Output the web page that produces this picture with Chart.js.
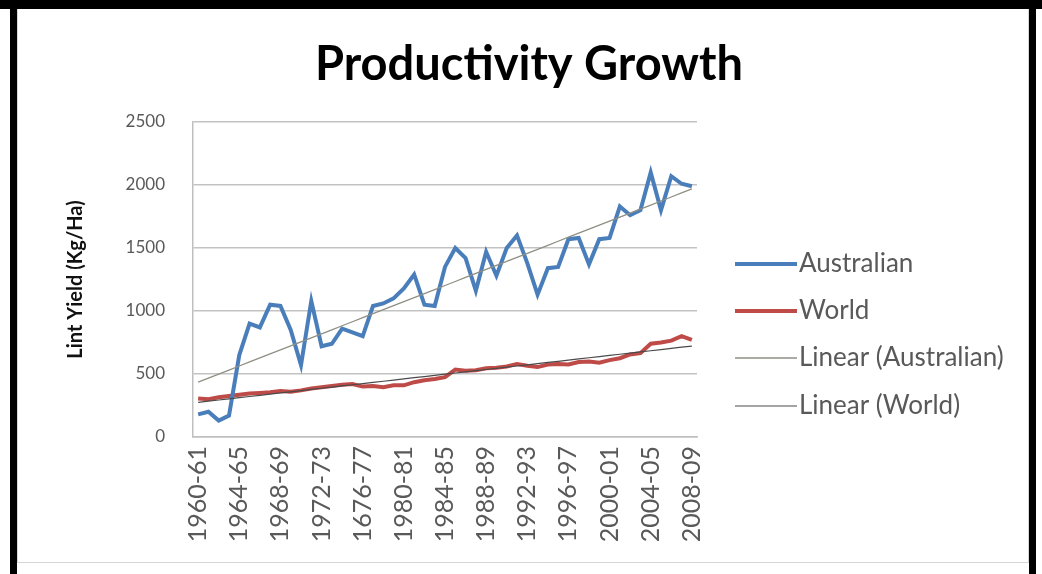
<!DOCTYPE html>
<html>
<head>
<meta charset="utf-8">
<title>Productivity Growth</title>
<script src="https://cdn.jsdelivr.net/npm/chart.js@4.4.1/dist/chart.umd.min.js"></script>
<style>
  html, body { margin: 0; padding: 0; background: #fff; }
  #wrap { position: relative; width: 1042px; height: 574px; overflow: hidden; background: #fff; }
  #chart { position: absolute; left: 0; top: 0; }
  #inner { position: absolute; left: 17px; top: 9px; width: 1010px; height: 553px; border: 1px solid #d6d6d6; border-top: none; pointer-events: none; }
  .frame { position: absolute; background: #000; }
</style>
</head>
<body>
<div id="wrap">
  <canvas id="chart" width="1042" height="574"></canvas>
  <div id="inner"></div>
  <div class="frame" style="left:0;top:0;width:1042px;height:9px"></div>
  <div class="frame" style="left:10px;top:0;width:7px;height:574px"></div>
  <div class="frame" style="left:1029px;top:0;width:7px;height:574px"></div>
</div>

<script>
// ---------- Dades (llegides del gràfic) ----------
const seasons = [
  "1960-61", "1961-62", "1962-63", "1963-64", "1964-65", "1965-66", "1966-67",
  "1967-68", "1968-69", "1969-70", "1970-71", "1971-72", "1972-73", "1973-74",
  "1974-75", "1975-76", "1676-77", "1977-78", "1978-79", "1979-80", "1980-81",
  "1981-82", "1982-83", "1983-84", "1984-85", "1985-86", "1986-87", "1987-88",
  "1988-89", "1989-90", "1990-91", "1991-92", "1992-93", "1993-94", "1994-95",
  "1995-96", "1996-97", "1997-98", "1998-99", "1999-00", "2000-01", "2001-02",
  "2002-03", "2003-04", "2004-05", "2005-06", "2006-07", "2007-08", "2008-09"
];

const tickLabels = [
  "1960-61", "1964-65", "1968-69", "1972-73", "1676-77", "1980-81", "1984-85",
  "1988-89", "1992-93", "1996-97", "2000-01", "2004-05", "2008-09"
];

const australian = [
  180, 200, 130, 170, 650, 900, 870, 1050, 1040, 850,
  570, 1080, 720, 740, 860, 830, 800, 1040, 1060, 1100,
  1180, 1290, 1050, 1040, 1350, 1500, 1420, 1160, 1470, 1280,
  1500, 1600, 1380, 1130, 1340, 1350, 1570, 1580, 1370, 1570,
  1580, 1830, 1760, 1800, 2100, 1800, 2070, 2010, 1990
];

const world = [
  305, 300, 315, 325, 335, 345, 350, 355, 365, 360,
  370, 385, 395, 405, 415, 420, 400, 405, 395, 410,
  410, 435, 450, 460, 475, 535, 525, 530, 545, 550,
  560, 580, 565, 555, 575, 580, 575, 595, 600, 590,
  610, 625, 655, 665, 740, 750, 765, 800, 770
];

const yTicks = [0, 500, 1000, 1500, 2000, 2500];

// ---------- Línia de tendència (com Excel) ----------
function linearFit(values) {
  const n = values.length;
  let sx = 0, sy = 0, sxy = 0, sxx = 0;
  values.forEach((y, i) => { sx += i; sy += y; sxy += i * y; sxx += i * i; });
  const b = (n * sxy - sx * sy) / (n * sxx - sx * sx);
  const a = (sy - b * sx) / n;
  return values.map((_, i) => a + b * i);
}

const txtGrey = '#595959';

// ---------- Títol i llegenda dibuixats a mà ----------
const titleAndLegend = {
  id: 'titleAndLegend',
  afterDraw(chart) {
    const ctx = chart.ctx;
    ctx.save();

    ctx.font = 'bold 47px Lato';
    ctx.fillStyle = '#000';
    ctx.textAlign = 'center';
    ctx.textBaseline = 'alphabetic';
    ctx.fillText('Productivity Growth', 529, 80);

    const x0 = 735, x1 = 797;
    const rows = [264, 311, 358, 406];
    ctx.font = '26px Lato';
    ctx.textAlign = 'left';
    ctx.textBaseline = 'middle';
    ctx.fillStyle = txtGrey;
    chart.data.datasets.forEach((ds, i) => {
      const y = rows[i];
      ctx.strokeStyle = ds.borderColor;
      ctx.lineWidth = ds.borderWidth;
      ctx.beginPath();
      ctx.moveTo(x0, y);
      ctx.lineTo(x1, y);
      ctx.stroke();
      ctx.fillText(ds.label, x1 + 2, y);
    });
    ctx.restore();
  }
};

const ctx = document.getElementById('chart').getContext('2d');

new Chart(ctx, {
  type: 'line',
  data: {
    labels: seasons,
    datasets: [
      { label: 'Australian', data: australian, borderColor: '#4a7ebb', borderWidth: 4, order: 2 },
      { label: 'World', data: world, borderColor: '#be4b48', borderWidth: 4, order: 3 },
      { label: 'Linear (Australian)', data: linearFit(australian), borderColor: '#8f8f84', borderWidth: 1.3, order: 0 },
      { label: 'Linear (World)', data: linearFit(world), borderColor: '#4a4a4a', borderWidth: 1.2, order: 1 }
    ]
  },
  options: {
    responsive: false,
    animation: false,
    elements: { point: { radius: 0 }, line: { tension: 0 } },
    layout: { padding: { left: 64, right: 345, top: 122, bottom: 17 } },
    plugins: {
      legend: { display: false },
      tooltip: { enabled: false },
      title: { display: false }
    },
    scales: {
      x: {
        offset: true,
        grid: { display: false, drawTicks: false },
        border: { color: '#bfbfbf', width: 1.5 },
        ticks: {
          autoSkip: false,
          minRotation: 90,
          maxRotation: 90,
          padding: 9,
          color: txtGrey,
          font: { family: 'Lato', size: 25 },
          callback: function (v, i) {
            return tickLabels.includes(seasons[i]) ? seasons[i] : '';
          }
        },
        afterFit: s => { s.height = 120; }
      },
      y: {
        min: 0,
        max: 2500,
        afterBuildTicks: s => { s.ticks = yTicks.map(v => ({ value: v })); },
        grid: { color: '#c3c3c3', lineWidth: 1.6, drawTicks: false, tickLength: 0 },
        border: { display: true, color: '#bfbfbf', width: 1.5 },
        ticks: {
          padding: 28,
          color: txtGrey,
          font: { family: 'Lato', size: 17 },
          callback: v => String(v)
        },
        title: {
          display: true,
          text: 'Lint Yield (Kg/Ha)',
          color: '#111',
          font: { family: 'Lato', size: 20, weight: 'bold' },
          padding: 0
        },
        afterFit: s => { s.width = 129; }
      }
    }
  },
  plugins: [titleAndLegend]
});
</script>
</body>
</html>
